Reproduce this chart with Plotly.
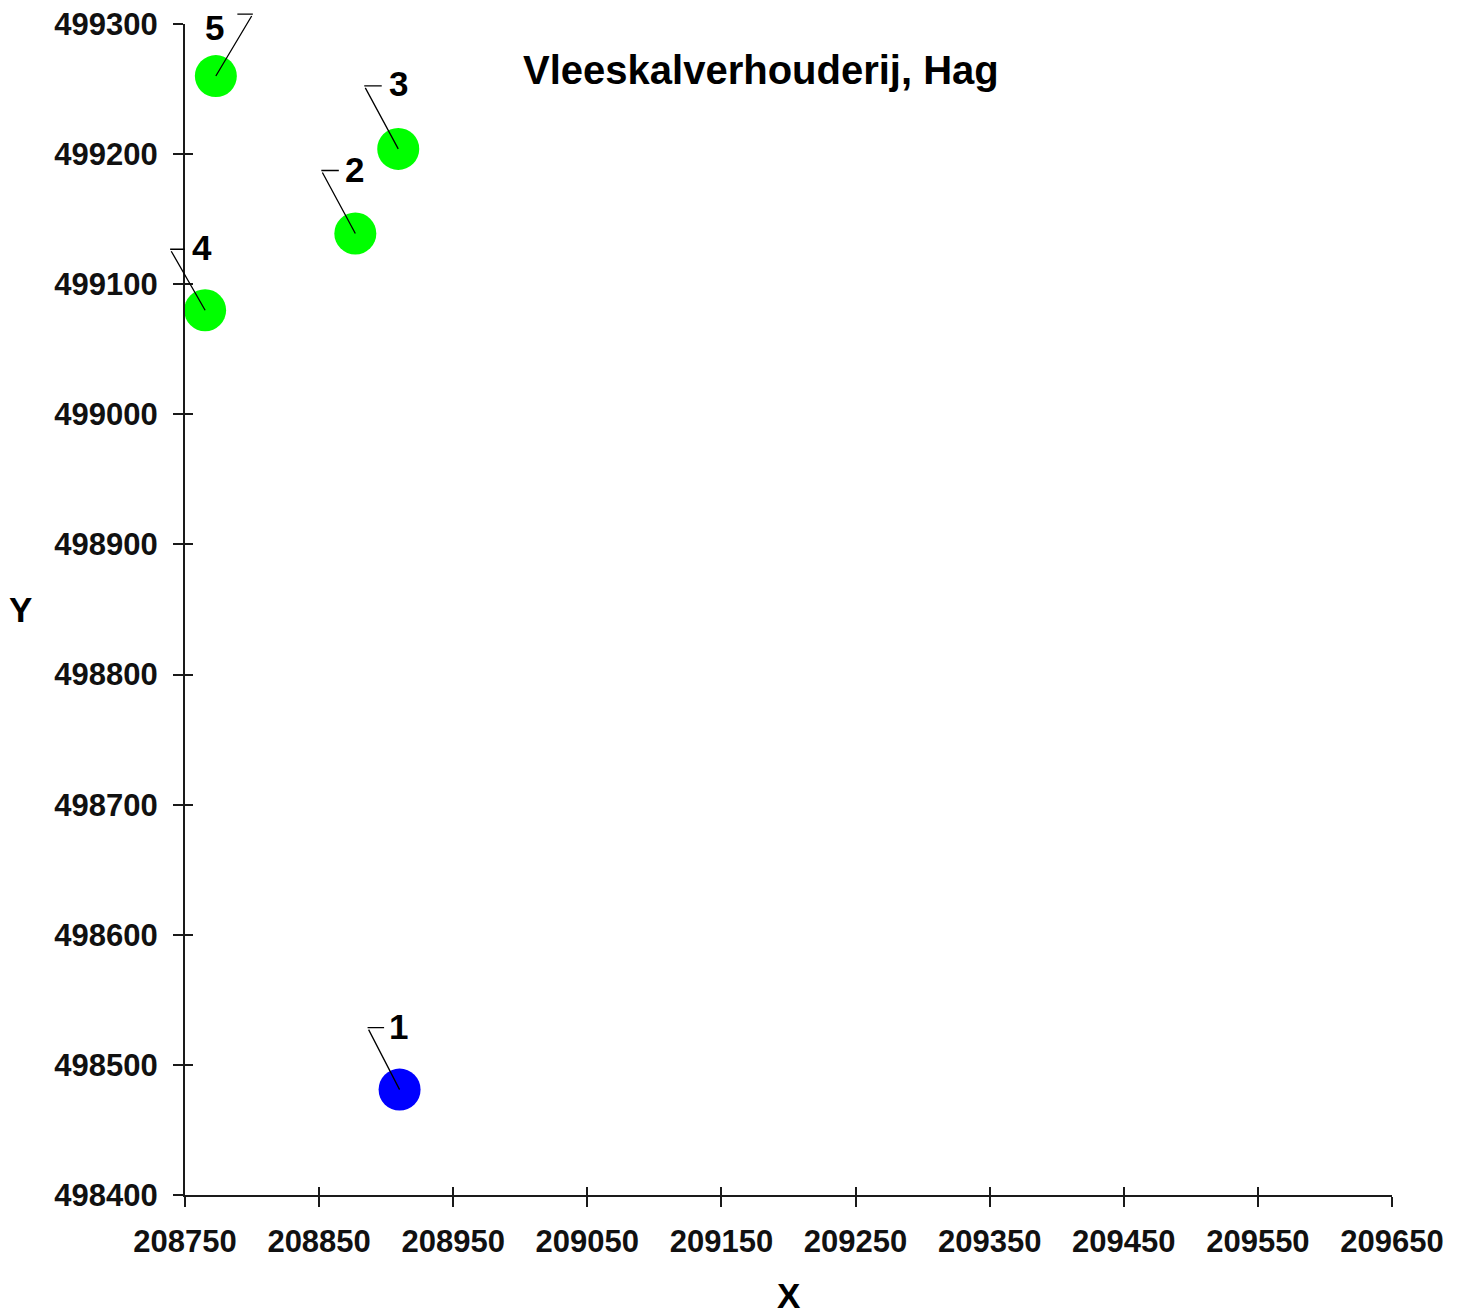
import plotly.graph_objects as go

# Data
labels = ["1", "2", "3", "4", "5"]
x_vals = [208910, 208877, 208909, 208765, 208773]
y_vals = [498481, 499139, 499204, 499080, 499260]
colors = ["#0000FF", "#00FF00", "#00FF00", "#00FF00", "#00FF00"]
x_ticks = [208750, 208850, 208950, 209050, 209150, 209250, 209350, 209450, 209550, 209650]
y_ticks = [498400, 498500, 498600, 498700, 498800, 498900, 499000, 499100, 499200, 499300]
title_text = "Vleeskalverhouderij, Hag"
x_title = "X"
y_title = "Y"

# Label callout offsets in pixels (style): leader corner (dx, dy up), horizontal length, text offset
corner = [(-32, 62), (-34, 63), (-34, 63), (-35, 61), (37, 62)]
horiz = [18, 19, 19, 16, -17]
text_off = [(-1, 63), (-1, 64), (0, 65), (-3, 63), (-1, 49)]

FONT = "Liberation Sans, Arial, sans-serif"
W, H = 1456, 1306  # page body has an 8px margin

fig = go.Figure()
fig.add_trace(go.Scatter(
    x=x_vals, y=y_vals, mode="markers",
    marker=dict(size=42, color=colors, line=dict(width=0)),
    cliponaxis=False, showlegend=False, hoverinfo="x+y",
))
# empty trace so that the overlay axes (inner tick halves) get drawn
fig.add_trace(go.Scatter(x=[], y=[], xaxis="x2", yaxis="y2", showlegend=False,
                         hoverinfo="skip"))

annotations = []
for i, lab in enumerate(labels):
    cx, cy = corner[i]
    annotations.append(dict(
        x=x_vals[i], y=y_vals[i], xref="x", yref="y", text=" ",
        font=dict(size=1), showarrow=True, arrowhead=0, arrowwidth=1.3,
        arrowcolor="black", ax=cx, ay=-cy, standoff=0, startstandoff=0,
    ))
    annotations.append(dict(
        x=x_vals[i], y=y_vals[i], xref="x", yref="y", text=" ",
        font=dict(size=1), showarrow=True, arrowhead=0, arrowwidth=1.3,
        arrowcolor="black", ax=horiz[i], ay=0, xshift=cx, yshift=cy,
        standoff=0, startstandoff=0,
    ))
    tx, ty = text_off[i]
    annotations.append(dict(
        x=x_vals[i], y=y_vals[i], xref="x", yref="y", text="<b>%s</b>" % lab,
        font=dict(size=35, color="black", family=FONT), showarrow=False,
        xshift=tx, yshift=ty, xanchor="center", yanchor="middle",
    ))

# axis titles
annotations.append(dict(text="<b>%s</b>" % y_title, xref="paper", yref="paper",
                        x=0, xshift=-165, y=0.5, xanchor="center", yanchor="middle",
                        showarrow=False, font=dict(size=35, family=FONT, color="black")))
annotations.append(dict(text="<b>%s</b>" % x_title, xref="paper", yref="paper",
                        x=0.5, y=0, yshift=-100, xanchor="center", yanchor="middle",
                        showarrow=False, font=dict(size=35, family=FONT, color="black")))

axis_common = dict(
    showgrid=False, zeroline=False, showline=True, linecolor="#1a1a1a",
    linewidth=2, ticks="outside", ticklen=10, tickwidth=2, tickcolor="#1a1a1a",
    tickfont=dict(size=31, family=FONT, color="#111111", weight="bold"),
    automargin=False, ticklabeloverflow="allow",
)

fig.update_layout(
    width=W, height=H,
    margin=dict(l=177, r=72, t=16, b=119, autoexpand=False),
    paper_bgcolor="white", plot_bgcolor="white",
    font=dict(family=FONT, color="black"),
    title=dict(text="<b>%s</b>" % title_text, xref="container", yref="container",
               x=515 / W, xanchor="left", y=1 - 62 / H, yanchor="middle",
               font=dict(size=40, family=FONT, color="black")),
    xaxis=dict(range=[x_ticks[0], x_ticks[-1]], tickvals=x_ticks,
               ticktext=[str(v) for v in x_ticks], ticklabelstandoff=8, **axis_common),
    yaxis=dict(range=[y_ticks[0], y_ticks[-1]], tickvals=y_ticks,
               ticktext=[str(v) for v in y_ticks], ticklabelstandoff=9, **axis_common),
    xaxis2=dict(overlaying="x", anchor="y2", range=[x_ticks[0], x_ticks[-1]],
                tickvals=x_ticks, ticks="inside", ticklen=8, tickwidth=2,
                tickcolor="#1a1a1a", showticklabels=False, showgrid=False,
                zeroline=False, showline=False, side="bottom"),
    yaxis2=dict(overlaying="y", anchor="x2", range=[y_ticks[0], y_ticks[-1]],
                tickvals=y_ticks, ticks="inside", ticklen=8, tickwidth=2,
                tickcolor="#1a1a1a", showticklabels=False, showgrid=False,
                zeroline=False, showline=False, side="left"),
    annotations=annotations,
)

fig.write_html("out.html")
